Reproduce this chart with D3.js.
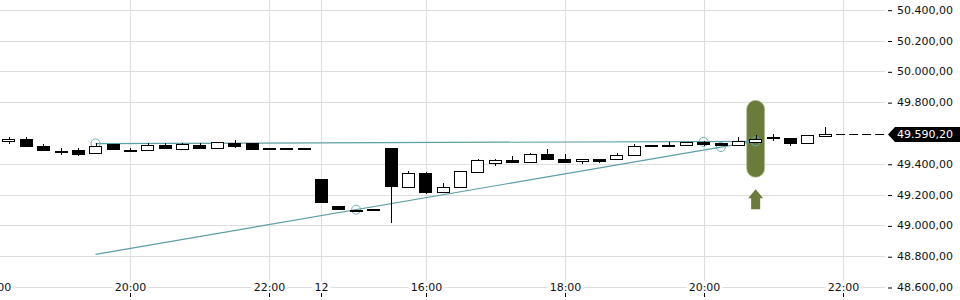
<!DOCTYPE html>
<html>
<head>
<meta charset="utf-8">
<script src="https://cdn.jsdelivr.net/npm/d3@7"></script>
<style>
  body { margin: 0; background: #fff; }
  svg { display: block; font-family: "DejaVu Sans", sans-serif; }
</style>
</head>
<body>
<div id="chart"></div>
<script>
// 15 minute candles, index 0 = 18:15, index 18 = 14:30 on the 12th
var opens  = [49546, 49561, 49515, 49486, 49489, 49468, 49528, 49490, 49491, 49522, 49498, 49522, 49500, 49535, 49533, 49503, 49504, 49504,
              49301, 49126, 49098, 49104, 49502, 49251, 49340, 49219, 49247, 49348, 49407, 49424, 49413, 49463, 49431, 49416, 49429, 49429,
              49457, 49524, 49520, 49520, 49539, 49535, 49520, 49539, 49572, 49565, 49533, 49577];
var highs  = [49572, 49572, 49528, 49502, 49502, 49535, 49528, 49500, 49533, 49535, 49535, 49535, 49539, 49556, 49533, 49503, 49504, 49504,
              49301, 49126, 49098, 49104, 49502, 49351, 49345, 49275, 49351, 49431, 49431, 49452, 49470, 49496, 49463, 49429, 49429, 49470,
              49528, 49524, 49541, 49541, 49548, 49535, 49574, 49585, 49591, 49565, 49589, 49639];
var lows   = [49530, 49513, 49487, 49457, 49450, 49468, 49494, 49485, 49491, 49500, 49498, 49500, 49500, 49502, 49498, 49502, 49504, 49504,
              49154, 49108, 49098, 49104, 49017, 49245, 49206, 49219, 49247, 49348, 49387, 49411, 49413, 49429, 49413, 49396, 49403, 49429,
              49457, 49513, 49520, 49520, 49515, 49520, 49520, 49539, 49548, 49517, 49533, 49577];
var closes = [49561, 49513, 49487, 49480, 49465, 49517, 49494, 49489, 49520, 49500, 49528, 49500, 49539, 49515, 49498, 49502, 49503, 49503,
              49154, 49108, 49097, 49103, 49258, 49338, 49219, 49247, 49351, 49422, 49422, 49411, 49463, 49429, 49413, 49429, 49420, 49457,
              49515, 49513, 49524, 49541, 49526, 49520, 49546, 49563, 49571, 49537, 49589, 49590.20];

var xTickIndex  = [-0.8, 7, 15, 18, 24, 32, 40, 48];
var xTickLabels = ["18:00", "20:00", "22:00", "12", "16:00", "18:00", "20:00", "22:00"];
var yTicks = [48600, 48800, 49000, 49200, 49400, 49800, 50000, 50200, 50400];

var lastPrice = 49590.20;

// drawn trend lines: [index, price] pairs
var flatLine = [[5, 49531], [43, 49545]];
var riseLine = [[5, 48812], [43, 49547]];
var anchorIndex = [5, 20, 40, 41, 43];
var anchorPrice = [49532, 49102, 49542, 49508, 49545];

var signalIndex = 43;

var svgWidth = 960;
var svgHeight = 300;
var plotRight = 885;

var candles = opens.map(function(o, i) {
  return { i: i, open: o, high: highs[i], low: lows[i], close: closes[i] };
});

var svg = d3.select("#chart")
  .append("svg")
  .attr("width", svgWidth)
  .attr("height", svgHeight);

var xScale = d3.scaleLinear()
  .domain([0, 48])
  .range([8.7, 842.5]);

var yScale = d3.scaleLinear()
  .domain([48600, 50400])
  .range([287, 9.7]);

var de = d3.formatLocale({ decimal: ",", thousands: ".", grouping: [3], currency: ["", ""] });
var priceFmt = de.format(",.2f");

var crisp = function(v) { return Math.round(v) + 0.5; };

// horizontal grid + right axis
var yAxis = d3.axisRight(yScale)
  .tickValues(yTicks)
  .tickSize(0)
  .tickFormat(priceFmt);

svg.append("g")
  .selectAll("line")
  .data(yTicks)
  .enter()
  .append("line")
  .attr("x1", 0)
  .attr("x2", plotRight)
  .attr("y1", d => crisp(yScale(d)))
  .attr("y2", d => crisp(yScale(d)))
  .attr("stroke", "#dedede");

var yAxisG = svg.append("g")
  .attr("transform", `translate(${plotRight + 3}, 0)`)
  .call(yAxis);
yAxisG.select(".domain").remove();
yAxisG.selectAll(".tick line")
  .attr("x1", 0)
  .attr("x2", 4)
  .attr("stroke", "#000")
  .attr("transform", "translate(0,0.5)");
yAxisG.selectAll(".tick text")
  .attr("x", 9)
  .attr("fill", "#111")
  .style("font-size", "11px")
  .style("font-family", "DejaVu Sans");

// vertical grid
svg.append("g")
  .selectAll("line")
  .data(xTickIndex)
  .enter()
  .append("line")
  .attr("x1", d => crisp(xScale(d)))
  .attr("x2", d => crisp(xScale(d)))
  .attr("y1", 0)
  .attr("y2", 282)
  .attr("stroke", "#dedede");

// signal pill + arrow
var sig = candles[signalIndex];
var sx = xScale(sig.i);
var sy = yScale((sig.high + sig.low) / 2);
var sigColor = "#6b7c3a";

svg.append("rect")
  .attr("x", sx - 9)
  .attr("y", sy - 38.5)
  .attr("width", 18)
  .attr("height", 77)
  .attr("rx", 9)
  .attr("fill", sigColor)
  .attr("stroke", "#b9c29a")
  .attr("stroke-width", 0.8);

var ay = sy + 38.5 + 12;
svg.append("path")
  .attr("d", `M${sx},${ay} L${sx + 7.5},${ay + 9} L${sx + 4.5},${ay + 9} L${sx + 4.5},${ay + 20}
              L${sx - 4.5},${ay + 20} L${sx - 4.5},${ay + 9} L${sx - 7.5},${ay + 9} Z`)
  .attr("fill", sigColor);

// trend lines
var line = d3.line()
  .x(d => xScale(d[0]))
  .y(d => yScale(d[1]));

[flatLine, riseLine].forEach(function(pts) {
  svg.append("path")
    .attr("d", line(pts))
    .attr("fill", "none")
    .attr("stroke", "#5b9fa4")
    .attr("stroke-width", 1.2);
});

svg.append("g")
  .selectAll("circle")
  .data(anchorIndex)
  .enter()
  .append("circle")
  .attr("cx", d => xScale(d))
  .attr("cy", (d, k) => yScale(anchorPrice[k]))
  .attr("r", 4.5)
  .attr("fill", "none")
  .attr("stroke", "#6fafb4")
  .attr("stroke-width", 1);

// candles
var gCandle = svg.selectAll("g.candle")
  .data(candles)
  .enter()
  .append("g")
  .attr("class", "candle");

gCandle.append("line")
  .attr("x1", d => crisp(xScale(d.i)))
  .attr("x2", d => crisp(xScale(d.i)))
  .attr("y1", d => Math.round(yScale(d.high)))
  .attr("y2", d => Math.round(yScale(d.low)))
  .attr("stroke", "#000");

gCandle.append("rect")
  .attr("x", d => Math.round(xScale(d.i) - 6.3) + 0.5)
  .attr("width", 12)
  .attr("y", d => Math.round(yScale(Math.max(d.open, d.close))) + 0.5)
  .attr("height", function(d) {
    var top = Math.round(yScale(Math.max(d.open, d.close)));
    var bot = Math.round(yScale(Math.min(d.open, d.close)));
    return Math.max(1, bot - top);
  })
  .attr("fill", d => d.close >= d.open ? "#fff" : "#000")
  .attr("stroke", "#000");

// last price line + tag
var ly = crisp(yScale(lastPrice));
svg.append("line")
  .attr("x1", xScale(47) + 11)
  .attr("x2", plotRight + 3)
  .attr("y1", ly)
  .attr("y2", ly)
  .attr("stroke", "#000")
  .attr("stroke-dasharray", "9,4");

svg.append("path")
  .attr("d", `M${plotRight + 3},${ly} L${plotRight + 10},${ly - 7.5} L960,${ly - 7.5} L960,${ly + 7.5} L${plotRight + 10},${ly + 7.5} Z`)
  .attr("fill", "#000");

svg.append("text")
  .attr("x", plotRight + 12)
  .attr("y", ly)
  .attr("dy", "0.35em")
  .attr("fill", "#fff")
  .style("font-size", "11px")
  .text(priceFmt(lastPrice));

// time labels sit on the bottom edge with a white patch behind them
var gx = svg.append("g")
  .selectAll("g")
  .data(xTickIndex)
  .enter()
  .append("g")
  .attr("transform", d => `translate(${crisp(xScale(d))}, 0)`);

gx.append("text")
  .attr("y", 287)
  .attr("dy", "0.35em")
  .attr("text-anchor", "middle")
  .attr("fill", "#111")
  .style("font-size", "11px")
  .text((d, k) => xTickLabels[k])
  .each(function() {
    var b = this.getBBox();
    d3.select(this.parentNode).insert("rect", "text")
      .attr("x", b.x - 2)
      .attr("y", 281)
      .attr("width", b.width + 4)
      .attr("height", 11)
      .attr("fill", "#fff");
  });

gx.append("line")
  .attr("x1", 0)
  .attr("x2", 0)
  .attr("y1", 293)
  .attr("y2", 297)
  .attr("stroke", "#000");
</script>
</body>
</html>
